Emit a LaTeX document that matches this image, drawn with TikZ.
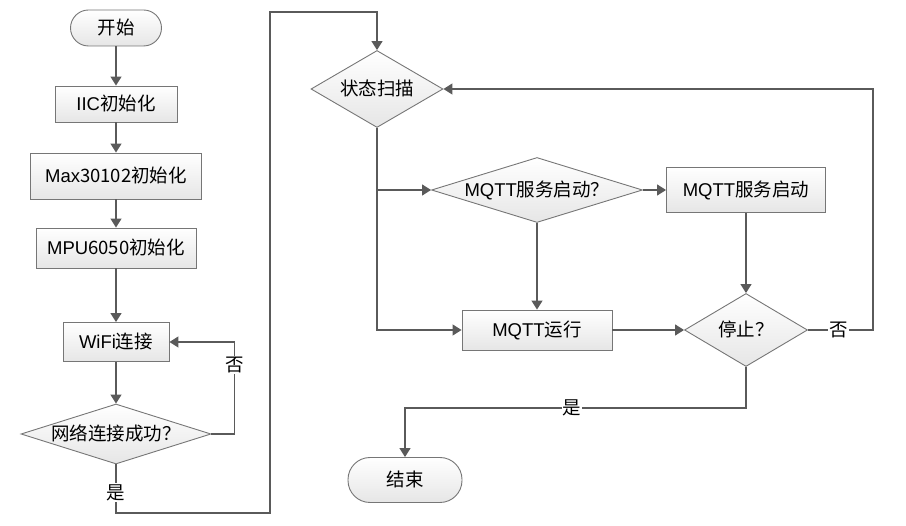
\documentclass[tikz,border=0pt]{standalone}
\usepackage{fontspec}
\setmainfont{Liberation Sans}
\newfontfamily\cjk{Noto Sans CJK SC}
\usetikzlibrary{arrows.meta,shapes.geometric}
\newcommand{\zh}[1]{{\cjk #1}}
\newcommand{\ct}[1]{\makebox[0pt]{\raisebox{-0.36em}[0pt][0pt]{#1}}}
\definecolor{bordc}{HTML}{767676}
\definecolor{linec}{HTML}{5A5A5A}
\definecolor{fillc}{HTML}{E6E6E6}
\begin{document}
\begin{tikzpicture}[x=1pt,y=-1pt,
  font=\fontsize{18.5}{22}\selectfont,
  shapebase/.style={draw=bordc, line width=0.9pt, top color=white, bottom color=fillc, inner sep=0pt},
  procbox/.style={shapebase, rectangle},
  termbox/.style={shapebase, rectangle, rounded corners=#1},
  decbox/.style={shapebase, diamond, aspect=#1},
  conn/.style={draw=linec, line width=1.3pt, -{Triangle[length=9pt,width=11pt]}},
  lbl/.style={fill=white, inner sep=1pt}
]
\useasboundingbox (0,0) rectangle (906,526);

% left column
\node[termbox=18pt, minimum width=91, minimum height=36] (start) at (116,28) {\ct{\zh{开始}}};
\node[procbox, minimum width=122, minimum height=36] (iic) at (116,104) {\ct{IIC\zh{初始化}}};
\node[procbox, minimum width=171, minimum height=46] (max) at (116,176) {\ct{Max\zh{30102初始化}}};
\node[procbox, minimum width=160, minimum height=40] (mpu) at (116,248) {\ct{MPU\zh{6050初始化}}};
\node[procbox, minimum width=106, minimum height=39] (wifi) at (116,342) {\ct{WiFi\zh{连接}}};
\node[decbox=3.17, minimum width=190, minimum height=60] (net) at (116,434) {\ct{\zh{网络连接成功？}}};

% right part
\node[decbox=1.71, minimum width=132, minimum height=77] (scan) at (377,89) {\ct{\zh{状态扫描}}};
\node[decbox=3.25, minimum width=211, minimum height=65] (mq) at (537,190) {\ct{MQTT\zh{服务启动？}}};
\node[procbox, minimum width=159, minimum height=45] (mstart) at (746,190) {\ct{MQTT\zh{服务启动}}};
\node[procbox, minimum width=150, minimum height=40] (run) at (537,330) {\ct{MQTT\zh{运行}}};
\node[decbox=1.68, minimum width=123, minimum height=73] (stop) at (746,330) {\ct{\zh{停止？}}};
\node[termbox=22pt, minimum width=114, minimum height=45] (end) at (405,480) {\ct{\zh{结束}}};

\coordinate (b1) at (270,513);
\coordinate (b2) at (270,12);
\coordinate (r1) at (873,330);
\coordinate (y1) at (746,408);

% left connectors
\draw[conn] (start) -- (iic);
\draw[conn] (iic) -- (max);
\draw[conn] (max) -- (mpu);
\draw[conn] (mpu) -- (wifi);
\draw[conn] (wifi) -- (net);
\draw[conn] (net.east) -- ++(23,0) |- node[lbl, pos=0.375] {\zh{否}} (wifi.east);
\draw[conn] (net.south) |- node[lbl, pos=0.29] {\zh{是}} (b1) -- (b2) -| (scan.north);

% right connectors
\draw[conn] (scan.south) |- (run.west);
\draw[conn] (scan.south |- mq.west) -- (mq.west);
\draw[conn] (mq.south) -- (run.north);
\draw[conn] (mq.east) -- (mstart.west);
\draw[conn] (mstart.south) -- (stop.north);
\draw[conn] (run.east) -- (stop.west);
\draw[conn] (stop.east) -- node[lbl, pos=0.47] {\zh{否}} (r1) |- (scan.east);
\draw[conn] (stop.south) -- (y1) -| node[lbl, pos=0.255] {\zh{是}} (end.north);
\end{tikzpicture}
\end{document}
